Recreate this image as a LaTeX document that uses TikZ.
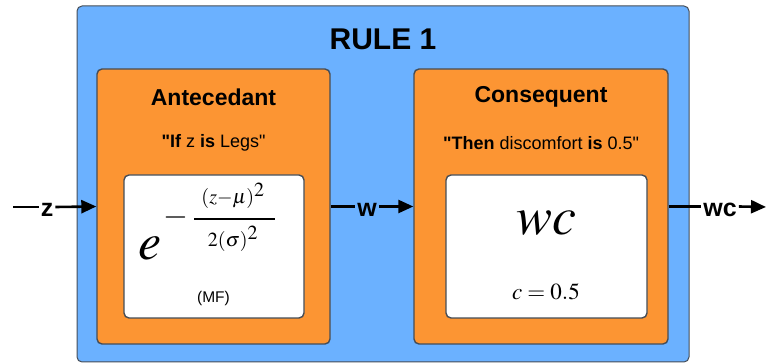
\documentclass[tikz,border=0pt]{standalone}
\usepackage{mathptmx}
\usepackage[no-math]{fontspec}
\setmainfont{Liberation Sans}[Ligatures=TeXOff]
\usetikzlibrary{arrows.meta}
\definecolor{blueBg}{HTML}{6BB1FF}
\definecolor{orangeBg}{HTML}{FC9533}
\definecolor{edgeGray}{HTML}{454D57}
\newcommand{\dq}{\symbol{34}}
\tikzset{
  rulebox/.style={draw=edgeGray, line width=1pt, fill=blueBg, rounded corners=5pt},
  partbox/.style={draw=edgeGray, line width=1.4pt, fill=orangeBg, rounded corners=5pt},
  innerbox/.style={draw=edgeGray, line width=1.4pt, fill=white, rounded corners=5pt},
  heading/.style={font=\bfseries\fontsize{23}{26}\selectfont},
  quotetext/.style={font=\fontsize{18}{21}\selectfont},
  siglabel/.style={font=\bfseries\fontsize{25}{26}\selectfont, inner sep=2pt},
  sigline/.style={line width=2.6pt},
  sigarrow/.style={line width=2.6pt, -{Triangle[length=15pt,width=13pt]}},
  mathpart/.style={font=\fontsize{20}{24}\selectfont, inner sep=0pt},
}
\begin{document}
\begin{tikzpicture}[x=1pt,y=-1pt]
\useasboundingbox (0,0) rectangle (766,363);
% boxes
\node[rulebox, minimum width=612pt, minimum height=356pt] (rule) at (383,184) {};
\node[partbox, minimum width=233pt, minimum height=275pt] (ant) at (213.5,206.5) {};
\node[partbox, minimum width=254pt, minimum height=275pt] (cons) at (541,206.5) {};
\node[innerbox, minimum width=180pt, minimum height=143pt] (mf) at (214,246.5) {};
\node[innerbox, minimum width=201pt, minimum height=143pt] (out) at (546.5,246.5) {};
% texts
\node[font=\bfseries\fontsize{30}{32}\selectfont] (title) at (383,39) {RULE 1};
\node[heading] (anth) at (213.5,97) {Antecedant};
\node[heading] (consh) at (541,97) {Consequent};
\node[quotetext] (antq) at (213.5,143) {\textbf{\dq If} z \textbf{is} Legs\dq};
\node[quotetext] (consq) at (541,143) {\textbf{\dq Then} discomfort \textbf{is} 0.5\dq};
% membership function
\node[font=\fontsize{52}{56}\selectfont, inner sep=0pt] (eb) at (150,248) {$e$};
\node[font=\fontsize{32}{34}\selectfont, inner sep=0pt] (neg) at (175.5,218) {$-$};
\node[mathpart] (num) at (233,196) {$(z{-}\mu)^{\textstyle 2}$};
\coordinate (barl) at (194,219);
\coordinate (barr) at (275,219);
\draw[line width=2.6pt] (barl) -- (barr);
\node[mathpart] (den) at (233,239) {$2(\sigma)^{\textstyle 2}$};
\node[font=\fontsize{15.5}{18}\selectfont] (mflab) at (213.5,298) {(MF)};
% consequent output
\node[font=\fontsize{54}{58}\selectfont, inner sep=0pt] (wc) at (546,223) {$wc$};
\node[font=\fontsize{23}{26}\selectfont] (cval) at (546,292) {$c = 0.5$};
% signals
\coordinate (zin) at (13,207);
\coordinate (wcout) at (766,207);
\node[siglabel] (zl) at (47,210) {z};
\node[siglabel] (wl) at (367,210) {w};
\node[siglabel] (wcl) at (720,210) {wc};
\draw[sigline] (zin) -- (zin -| zl.west);
\draw[sigarrow] (zl.east |- zin) -- (ant.west);
\draw[sigline] (ant.east) -- (ant.east -| wl.west);
\draw[sigarrow] (wl.east |- ant.east) -- (cons.west);
\draw[sigline] (cons.east) -- (cons.east -| wcl.west);
\draw[sigarrow] (wcl.east |- cons.east) -- (wcout);
\end{tikzpicture}
\end{document}
